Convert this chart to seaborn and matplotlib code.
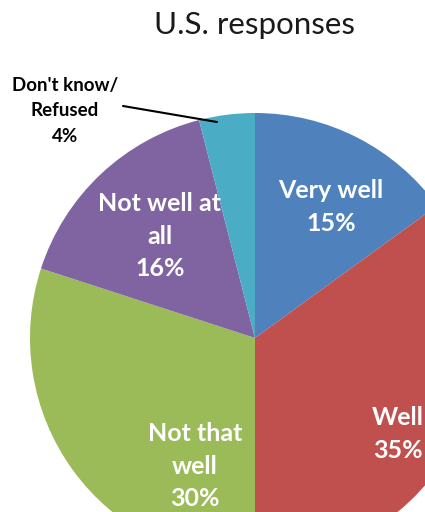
import matplotlib
matplotlib.use("Agg")
import matplotlib.pyplot as plt
import seaborn as sns

sns.set_theme(style="white")
plt.rcParams['font.family'] = ['Lato', 'DejaVu Sans']

# data
categories = ["Very well", "Well", "Not that well", "Not well at all", "Don't know/\nRefused"]
shares = [15, 35, 30, 16, 4]
colors = ["#4F81BD", "#C0504D", "#9BBB59", "#8064A2", "#4BACC6"]
title = "U.S. responses"

W, H = 425, 512
cx, cy, rad = 255, 338, 225  # pie centre / radius in image pixels (y from top)

fig = plt.figure(figsize=(W / 100, H / 100), dpi=100)
ax = fig.add_axes([0, 0, 1, 1])

ax.pie(shares, colors=colors, startangle=90, counterclock=False,
       center=(cx, H - cy), radius=rad, wedgeprops=dict(linewidth=0))
ax.set_xlim(0, W)
ax.set_ylim(0, H)
ax.set_aspect('equal')
ax.axis('off')

# label positions (pixels from top-left) for each slice
label_pos = [(331, 207), (398, 434), (195, 466), (160, 236), (65, 111)]
for cat, val, (lx, ly), col in zip(categories, shares, label_pos, colors):
    txt = cat
    if cat == "Not well at all":
        txt = "Not well at\nall"
    elif cat == "Not that well":
        txt = "Not that\nwell"
    inside = not cat.startswith("Don't")
    ax.text(lx, H - ly, f"{txt}\n{val}%", ha='center', va='center',
            color='white' if inside else 'black', fontweight='bold',
            fontsize=18 if inside else 13.5, linespacing=1.5 if inside else 1.6,
            clip_on=False)

# leader line for the small slice
ax.plot([123, 217], [H - 106, H - 122], color='black', lw=1.5)

ax.text(cx, H - 25, title, ha='center', va='center', fontsize=22.5, color='#1a1a1a')

fig.savefig("out.png", dpi=100)
